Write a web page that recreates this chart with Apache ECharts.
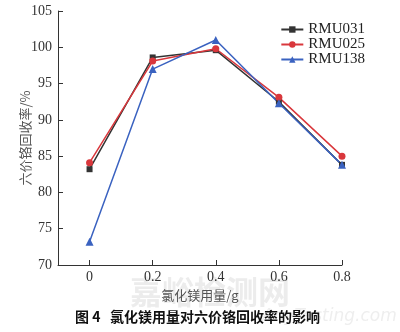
<!DOCTYPE html>
<html>
<head>
<meta charset="utf-8">
<script src="https://cdn.jsdelivr.net/npm/echarts@6/dist/echarts.min.js"></script>
<style>
  html, body { margin: 0; padding: 0; background: #fff; }
  #chart { width: 400px; height: 332px; }
</style>
</head>
<body>
<div id="chart"></div>
<script>
// Magnesium chloride dosage (g) and Cr(VI) recovery (%) for three samples
const dosage = [0, 0.2, 0.4, 0.6, 0.8];
const rmu031 = [83.2, 98.6, 99.6, 92.5, 83.8];
const rmu025 = [84.1, 98.1, 99.8, 93.1, 85.0];
const rmu138 = [73.2, 97.0, 101.0, 92.3, 83.8];
const seriesNames = ['RMU031', 'RMU025', 'RMU138'];
const xTicks = ['0', '0.2', '0.4', '0.6', '0.8'];

const serif = '"Liberation Serif", "DejaVu Serif", serif';
const cjk = '"Noto Sans CJK SC", sans-serif';

const colors = ['#333333', '#d9373c', '#3a62c0'];
const symbols = ['rect', 'circle', 'triangle'];
const sizes = [6, 7, 8];
const values = [rmu031, rmu025, rmu138];

const chart = echarts.init(document.getElementById('chart'), null, { renderer: 'canvas' });

chart.setOption({
  animation: false,
  backgroundColor: '#ffffff',
  grid: { left: 58, right: 58, top: 11, bottom: 67 },
  legend: {
    right: 30, top: 17,
    orient: 'vertical',
    itemWidth: 22, itemHeight: 8, itemGap: 0,
    textStyle: { fontFamily: serif, fontSize: 15, color: '#222' },
    data: seriesNames
  },
  xAxis: {
    type: 'value',
    min: -0.1, max: 0.8,
    interval: 0.1,
    name: '氯化镁用量/g',
    nameLocation: 'middle',
    nameGap: 24,
    nameMoveOverlap: false,
    nameTextStyle: { fontFamily: cjk, fontSize: 13, color: '#555' },
    axisLine: { onZero: false, lineStyle: { color: '#333', width: 1 } },
    axisTick: {
      inside: true, length: 5, lineStyle: { color: '#333' },
      customValues: dosage
    },
    axisLabel: {
      fontFamily: serif, fontSize: 14, color: '#333', margin: 5,
      customValues: dosage,
      formatter: v => xTicks[dosage.findIndex(d => Math.abs(d - v) < 1e-6)]
    },
    splitLine: { show: false }
  },
  yAxis: {
    type: 'value',
    min: 70, max: 105, interval: 5,
    name: '六价铬回收率/%',
    nameLocation: 'middle',
    nameGap: 26,
    nameMoveOverlap: false,
    nameTextStyle: { fontFamily: cjk, fontSize: 13, color: '#555' },
    axisLine: { show: true, onZero: false, lineStyle: { color: '#333', width: 1 } },
    axisTick: { show: true, inside: true, length: 5, lineStyle: { color: '#333' } },
    axisLabel: { fontFamily: serif, fontSize: 14, color: '#333', margin: 6 },
    splitLine: { show: false }
  },
  series: seriesNames.map((name, i) => ({
    name: name,
    type: 'line',
    data: dosage.map((d, j) => [d, values[i][j]]),
    symbol: symbols[i],
    symbolSize: sizes[i],
    showAllSymbol: true,
    lineStyle: { color: colors[i], width: 1.5 },
    itemStyle: { color: colors[i] }
  })),
  graphic: [
    {
      type: 'text', left: 130, top: 276,
      style: { text: '嘉峪检测网', font: 'bold 32px "Noto Sans CJK SC", sans-serif', fill: 'rgba(200,200,200,0.35)' },
      z: 0
    },
    {
      type: 'text', left: 262, top: 308,
      style: { text: 'AnyTesting.com', font: 'italic 17px "DejaVu Sans", sans-serif', fill: 'rgba(200,200,200,0.3)' },
      z: 0
    },
    {
      type: 'text', left: 75, top: 310,
      style: { text: '图 4', font: 'bold 14px "Noto Sans CJK SC", sans-serif', fill: '#111' }
    },
    {
      type: 'text', left: 110, top: 310,
      style: { text: '氯化镁用量对六价铬回收率的影响', font: 'bold 14px "Noto Sans CJK SC", sans-serif', fill: '#111' }
    }
  ]
});
</script>
</body>
</html>
